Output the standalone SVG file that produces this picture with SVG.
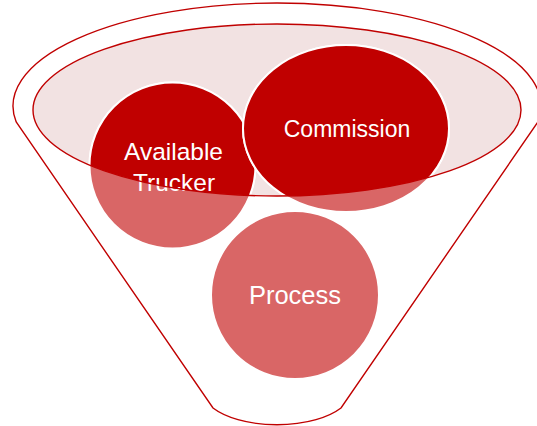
<svg xmlns="http://www.w3.org/2000/svg" width="537" height="426" viewBox="0 0 537 426">
<style>
.outline{fill:none;stroke:#C00000;stroke-width:1.4}
.light{fill:#D96666;stroke:#FFFFFF;stroke-width:2}
.dark{fill:#C00000;stroke:#FFFFFF;stroke-width:2}
.lbl{font-family:"Liberation Sans",Arial,sans-serif;fill:#FFFFFF;text-anchor:middle}
</style>
<defs>
<clipPath id="mouth"><ellipse cx="277" cy="110" rx="244" ry="86"/></clipPath>
</defs>
<rect width="537" height="426" fill="#FFFFFF"/>
<g id="funnel">
<path class="outline" d="M 16.2 122 A 264 103 0 1 1 537.8 122 L 341 408 A 75 35 0 0 1 213 408 Z"/>
<ellipse cx="277" cy="110" rx="244" ry="86" fill="#F2E2E2"/>
</g>
<g id="connectors"></g>
<g id="node-available-trucker">
<circle class="light" cx="172.5" cy="165.5" r="83"/>
<circle class="dark" cx="172.5" cy="165.5" r="83" clip-path="url(#mouth)"/>
<text class="lbl" x="173.5" y="159.5" font-size="24.5">Available</text>
<text class="lbl" x="174" y="191" font-size="24.5">Trucker</text>
</g>
<g id="node-commission">
<ellipse class="light" cx="346" cy="128.5" rx="103" ry="83.5"/>
<ellipse class="dark" cx="346" cy="128.5" rx="103" ry="83.5" clip-path="url(#mouth)"/>
<text class="lbl" x="347" y="137" font-size="23">Commission</text>
</g>
<g id="node-process">
<circle class="light" cx="295" cy="295" r="84"/>
<text class="lbl" x="295" y="304" font-size="25.5">Process</text>
</g>
<g id="funnel-rim">
<ellipse class="outline" cx="277" cy="110" rx="244" ry="86"/>
</g>
</svg>
